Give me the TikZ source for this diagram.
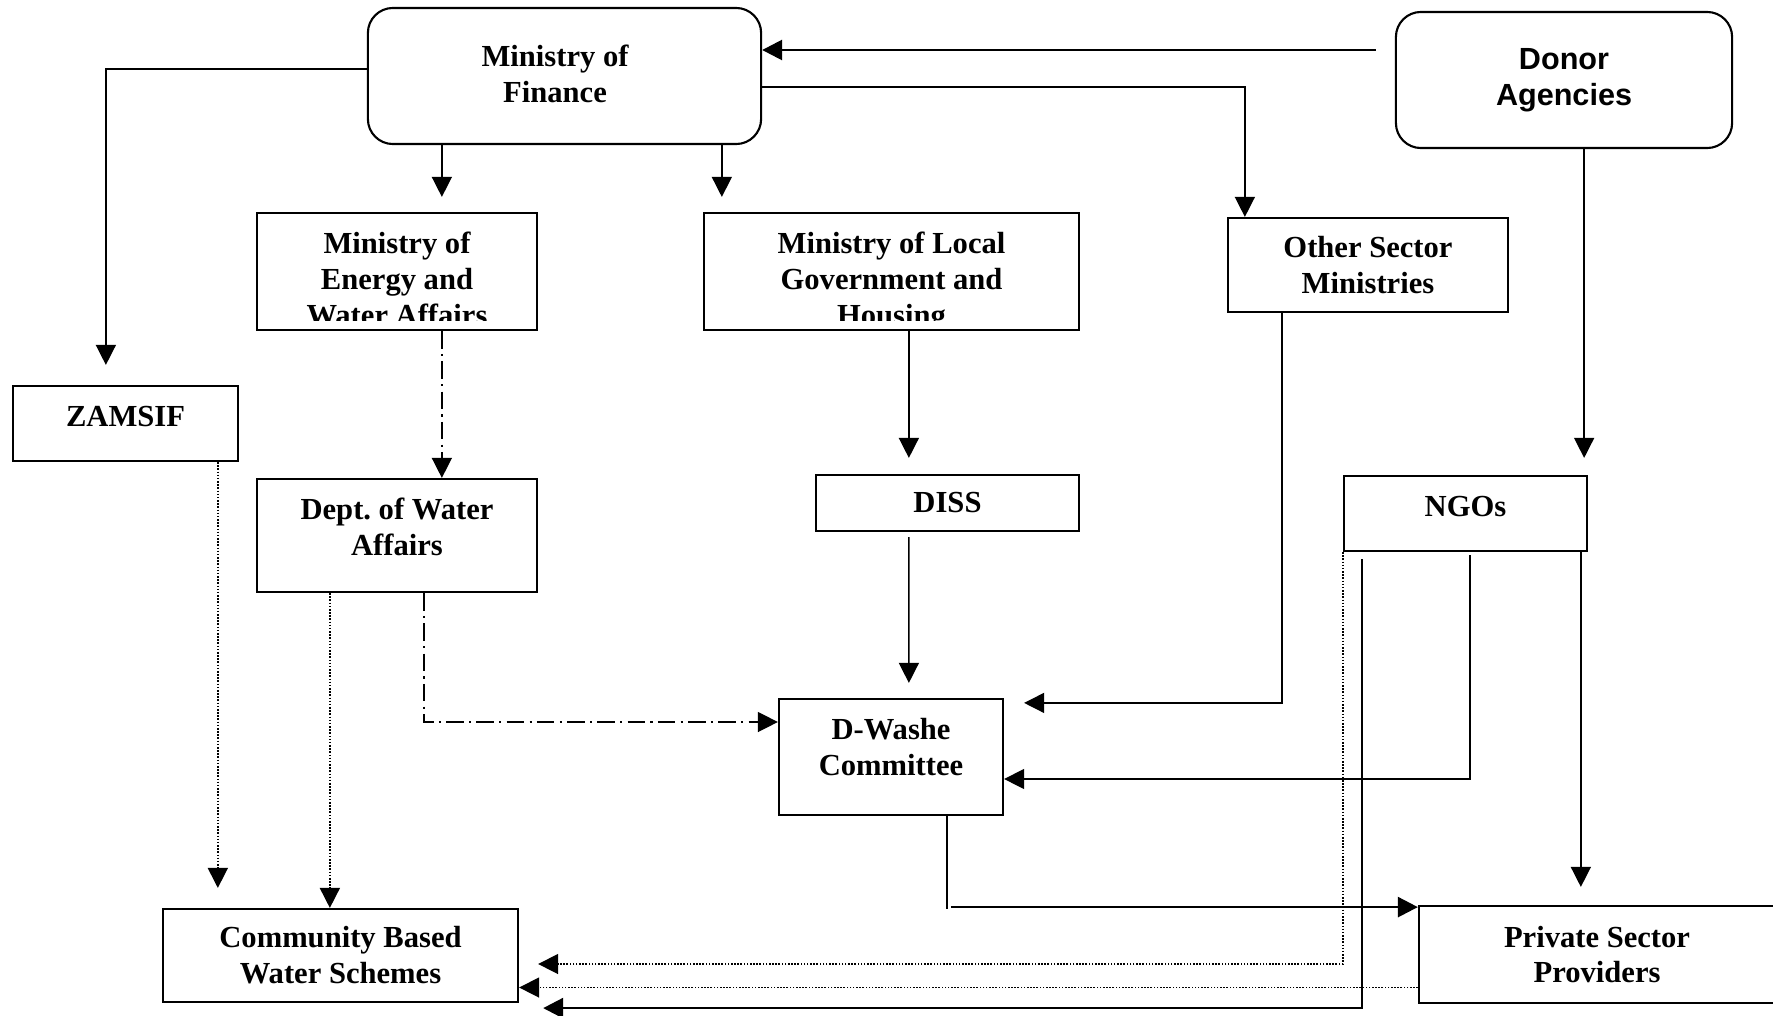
\documentclass[tikz,border=0pt]{standalone}
\usepackage{fontspec}
\setmainfont{Liberation Serif}
\newfontfamily\donorfont{Liberation Sans}
\usetikzlibrary{arrows.meta,calc}

\begin{document}
\begin{tikzpicture}[
    x=0.01cm, y=-0.01cm,
    >={Triangle[length=0.2cm,width=0.2cm]},
    box/.style={draw, line width=0.6pt, inner sep=0pt, align=center,
        font=\bfseries\fontsize{8.7}{10.2}\selectfont},
    rbox/.style={box, rounded corners=0.25cm},
    txt/.style={inner sep=0pt, align=center,
        font=\bfseries\fontsize{8.7}{10.2}\selectfont},
    link/.style={line width=0.4pt},
    arr/.style={->, line width=0.4pt},
    thickarr/.style={->, line width=0.75pt},
    dotarr/.style={->, line width=0.45pt, dash pattern=on 0.45pt off 0.45pt},
    dasharr/.style={->, line width=0.4pt, dash pattern=on 5pt off 1.5pt on 0.6pt off 1.5pt}
]
    \useasboundingbox (0,0) rectangle (1773,1015);

    % Top level
    \node[rbox, minimum width=3.93cm, minimum height=1.36cm] (mof) at (564.5,76) {};
    \node[txt] (mofText) at (555,74) {Ministry of\\Finance};
    \node[rbox, minimum width=3.36cm, minimum height=1.36cm,
        font=\donorfont\bfseries\fontsize{8.7}{10.2}\selectfont] (donor) at (1564,80) {Donor\\Agencies};

    % Ministries
    \node[box, minimum width=2.8cm, minimum height=1.17cm] (mewa) at (397,271.5) {};
    \node[box, minimum width=3.75cm, minimum height=1.17cm] (mlgh) at (891.5,271.5) {};
    \node[box, minimum width=2.8cm, minimum height=0.94cm] (other) at (1368,265) {Other Sector\\Ministries};
    \begin{scope}
        \clip (mewa.north west) rectangle ($(mlgh.south east)+(0,-11)$);
        \node[txt] (mewaText) at (397,279) {Ministry of\\Energy and\\Water Affairs};
        \node[txt] (mlghText) at (891.5,282) {Ministry of Local\\Government and\\Housing};
    \end{scope}

    % Middle level
    \node[box, minimum width=2.25cm, minimum height=0.75cm, text depth=0.15cm] (zamsif) at (125.5,423.5) {ZAMSIF};
    \node[box, minimum width=2.8cm, minimum height=1.13cm, text depth=0.17cm] (dwa) at (397,535.5) {Dept.\ of Water\\Affairs};
    \node[box, minimum width=2.63cm, minimum height=0.56cm] (diss) at (947.5,503) {DISS};
    \node[box, minimum width=2.43cm, minimum height=0.75cm, text depth=0.14cm] (ngos) at (1465.5,513.5) {NGOs};
    \node[box, minimum width=2.24cm, minimum height=1.16cm, text depth=0.21cm] (dwashe) at (891,757) {D-Washe\\Committee};

    % Bottom level
    \node[box, minimum width=3.55cm, minimum height=0.93cm] (cbws) at (340.5,955.5) {Community Based\\Water Schemes};
    \node[box, minimum width=3.56cm, minimum height=0.97cm] (private) at (1597,954.5) {Private Sector\\Providers};

    % Free ends
    \coordinate (zamsifIn) at ($(zamsif.north west)+(94,-20)$);
    \coordinate (mewaIn) at ($(mewa.north west)+(186,-15)$);
    \coordinate (mlghIn) at ($(mlgh.north west)+(19,-15)$);
    \coordinate (donorOut) at ($(donor.west)+(-19,-30)$);
    \coordinate (ngosIn) at ($(ngos.north east)+(-4,-17)$);
    \coordinate (dissIn) at ($(diss.north west)+(94,-16)$);
    \coordinate (dwasheIn) at ($(dwashe.north west)+(131,-15)$);
    \coordinate (dwasheEast) at ($(dwashe.north east)+(20,5)$);
    \coordinate (privateIn) at ($(private.north west)+(163,-18)$);
    \coordinate (dwasheOut) at ($(dwashe.south west)+(169,93)$);
    \coordinate (dwasheBend) at ($(dwasheOut)+(4,-2)$);
    \coordinate (cbwsIn) at ($(cbws.north west)+(56,-20)$);
    \coordinate (cbwsEastA) at ($(cbws.east)+(19,8.5)$);
    \coordinate (cbwsEastB) at ($(cbws.south east)+(24,5)$);

    % Funding flows
    \draw[thickarr] (donorOut) -- (donorOut -| mof.east);
    \draw[arr] ($(mof.west)+(0,-7)$) -| (zamsifIn);
    \draw[arr] (mewaIn |- mof.south) -- (mewaIn);
    \draw[arr] (mlghIn |- mof.south) -- (mlghIn);
    \draw[arr] ($(mof.east)+(0,11)$) -| ($(other.north west)+(18,0)$);
    \draw[arr] (ngosIn |- donor.south) -- (ngosIn);

    % Local government
    \draw[arr] (dissIn |- mlgh.south) -- (dissIn);
    \draw[arr] ($(diss.south west)+(94,5)$) -- (dwasheIn);
    \draw[arr] ($(other.south west)+(55,0)$) |- (dwasheEast);
    \draw[arr] ($(ngos.south)+(4.5,3)$) |- ($(dwashe.east)+(0,22)$);
    \draw[arr] (privateIn |- ngos.south) -- (privateIn);
    \draw[link] (dwasheOut |- dwashe.south) -- (dwasheOut);
    \draw[thickarr] (dwasheBend) -- (dwasheBend -| private.west);

    % Water affairs
    \draw[dasharr] (mewaIn |- mewa.south) -- (mewaIn |- dwa.north);
    \draw[dasharr] ($(dwa.south west)+(168,0)$) |- ($(dwashe.west)+(0,-35)$);

    % Community schemes
    \draw[dotarr] (cbwsIn |- zamsif.south) -- (cbwsIn);
    \draw[dotarr] ($(dwa.south west)+(74,0)$) coordinate (dwaOut) -- (dwaOut |- cbws.north);
    \draw[dotarr] (ngos.south west) |- (cbwsEastA);
    \draw[dotarr] ($(private.west)+(0,33)$) coordinate (privOut) -- (privOut -| cbws.east);
    \draw[thickarr] ($(ngos.south west)+(19,7)$) |- (cbwsEastB);
\end{tikzpicture}
\end{document}
